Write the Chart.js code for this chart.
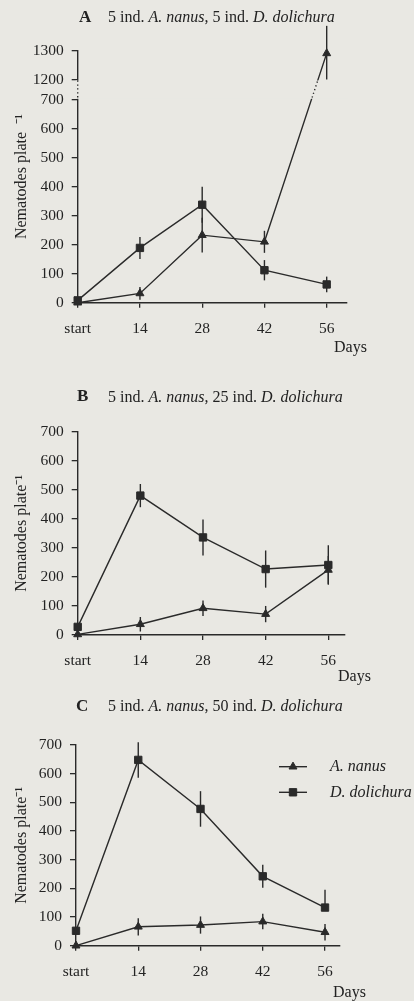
<!DOCTYPE html>
<html><head><meta charset="utf-8">
<script src="https://cdn.jsdelivr.net/npm/chart.js@4.4.1/dist/chart.umd.min.js"></script>
<style>
html,body{margin:0;padding:0;background:#e9e8e3;}
#wrap{position:relative;width:414px;height:1001px;overflow:hidden;font-family:'Liberation Serif','Times New Roman',serif;color:#222;}
canvas{position:absolute;left:0;}
.t{position:absolute;font-size:16px;line-height:20px;white-space:nowrap;}
.t b{font-size:17px;}
</style></head><body><div id="wrap">
<canvas id="cA" width="414" height="355" style="top:0px"></canvas>
<canvas id="cB" width="414" height="320" style="top:360px"></canvas>
<canvas id="cC" width="414" height="311" style="top:690px"></canvas>
<div class="t" style="left:79px;top:7px"><b>A</b></div>
<div class="t" style="left:108px;top:7px">5 ind. <i>A. nanus</i>, 5 ind. <i>D. dolichura</i></div>
<div class="t" style="left:334px;top:337px">Days</div>
<div class="t" style="left:77px;top:386px"><b>B</b></div>
<div class="t" style="left:108px;top:387px">5 ind. <i>A. nanus</i>, 25 ind. <i>D. dolichura</i></div>
<div class="t" style="left:338px;top:666px">Days</div>
<div class="t" style="left:76px;top:696px"><b>C</b></div>
<div class="t" style="left:108px;top:696px">5 ind. <i>A. nanus</i>, 50 ind. <i>D. dolichura</i></div>
<div class="t" style="left:333px;top:982px">Days</div>
</div>
<script>
// ---------- data ----------
const dayLabels = ['start', '14', '28', '42', '56'];
const dayValues = [0, 14, 28, 42, 56];
const seriesNames = ['A. nanus', 'D. dolichura'];
const yTicksA = [0, 100, 200, 300, 400, 500, 600, 700, 1200, 1300];
const yTicksBC = [0, 100, 200, 300, 400, 500, 600, 700];
const axisBreakA = [700, 1200];

const nanusA = [0, 32, 233, 210, 1290];
const nanusA_errUp = [0, 22, 60, 38, 95];
const nanusA_errDown = [0, 22, 60, 38, 90];
const dolichuraA = [8, 189, 338, 112, 63];
const dolichuraA_errUp = [0, 38, 62, 35, 27];
const dolichuraA_errDown = [0, 38, 62, 35, 27];

const nanusB = [2, 37, 92, 72, 224];
const nanusB_errUp = [0, 25, 27, 28, 48];
const nanusB_errDown = [0, 25, 27, 28, 48];
const dolichuraB = [28, 480, 336, 227, 241];
const dolichuraB_errUp = [0, 40, 62, 64, 68];
const dolichuraB_errDown = [0, 40, 62, 64, 68];

const nanusC = [0, 66, 72, 84, 47];
const nanusC_errUp = [0, 30, 30, 27, 29];
const nanusC_errDown = [0, 30, 30, 27, 29];
const dolichuraC = [52, 648, 477, 242, 133];
const dolichuraC_errUp = [0, 62, 62, 40, 62];
const dolichuraC_errDown = [0, 62, 62, 40, 0];

// ---------- style ----------
const INK = '#2a2a2a';
const TEXT = '#232323';
const BG = '#e9e8e3';
const FAMILY = "'Liberation Serif', 'Times New Roman', serif";
const GAP = 70; // compressed units used for the axis break

// ---------- broken linear scale ----------
function compress(v) {
  const [a, b] = axisBreakA;
  if (v <= a) return v;
  if (v >= b) return v - b + a + GAP;
  return a + (v - a) / (b - a) * GAP;
}
function expand(c) {
  const [a, b] = axisBreakA;
  if (c <= a) return c;
  if (c >= a + GAP) return c - a - GAP + b;
  return a + (c - a) / GAP * (b - a);
}
class BrokenScale extends Chart.LinearScale {
  determineDataLimits() { this.min = 0; this.max = compress(this.options.max); }
  buildTicks() { return yTicksA.map(v => ({ value: v })); }
  getPixelForValue(v) { return v === null || v === undefined ? NaN : super.getPixelForValue(compress(v)); }
  getValueForPixel(p) { return expand(super.getValueForPixel(p)); }
}
BrokenScale.id = 'brokenLinear';
BrokenScale.defaults = Chart.LinearScale.defaults;
Chart.register(BrokenScale);

// ---------- plugins ----------
const axisBreak = {
  id: 'axisBreak',
  afterDatasetsDraw(chart, args, o) {
    if (!o || !o.range) return;
    const ys = chart.scales.y, ctx = chart.ctx;
    const { left, right } = chart.chartArea;
    const yTop = ys.getPixelForValue(o.range[1]), yBot = ys.getPixelForValue(o.range[0]);
    ctx.save();
    ctx.fillStyle = BG;
    ctx.fillRect(left - 2, yTop + 1, right - left + 4, yBot - yTop - 2);
    ctx.strokeStyle = INK; ctx.lineWidth = 1.4; ctx.setLineDash([1.3, 2.6]);
    ctx.beginPath(); ctx.moveTo(left, yTop + 1); ctx.lineTo(left, yBot - 1); ctx.stroke();
    ctx.beginPath(); ctx.rect(left + 2, yTop + 1, right - left, yBot - yTop - 2); ctx.clip();
    chart.data.datasets.forEach((d, i) => {
      const pts = chart.getDatasetMeta(i).data;
      ctx.beginPath();
      pts.forEach((p, k) => k ? ctx.lineTo(p.x, p.y) : ctx.moveTo(p.x, p.y));
      ctx.stroke();
    });
    ctx.restore();
  }
};
const errorBars = {
  id: 'errorBars',
  afterDatasetsDraw(chart) {
    const ctx = chart.ctx, ys = chart.scales.y;
    ctx.save();
    ctx.strokeStyle = INK; ctx.lineWidth = 1.4; ctx.setLineDash([]);
    chart.data.datasets.forEach((d, i) => {
      const pts = chart.getDatasetMeta(i).data;
      d.data.forEach((pt, k) => {
        const up = d.errUp[k], dn = d.errDown[k];
        if (!up && !dn) return;
        const x = pts[k].x;
        ctx.beginPath();
        ctx.moveTo(x, ys.getPixelForValue(pt.y + up));
        ctx.lineTo(x, ys.getPixelForValue(pt.y - dn));
        ctx.stroke();
      });
    });
    ctx.restore();
  }
};
const sideLegend = {
  id: 'sideLegend',
  afterDraw(chart, args, o) {
    if (!o || !o.show) return;
    const ctx = chart.ctx;
    ctx.save();
    chart.data.datasets.forEach((d, i) => {
      const y = o.y0 + i * o.dy;
      ctx.strokeStyle = INK; ctx.lineWidth = d.borderWidth; ctx.setLineDash([]);
      ctx.beginPath(); ctx.moveTo(o.x0, y); ctx.lineTo(o.x1, y); ctx.stroke();
      ctx.fillStyle = INK; ctx.lineWidth = 1;
      Chart.helpers.drawPoint(ctx, { pointStyle: d.pointStyle, radius: d.pointRadius, rotation: 0, borderWidth: 1 }, (o.x0 + o.x1) / 2, y);
      ctx.fillStyle = TEXT;
      ctx.font = 'italic 16px ' + FAMILY;
      ctx.textBaseline = 'middle'; ctx.textAlign = 'left';
      ctx.fillText(d.label, o.tx, y);
    });
    ctx.restore();
  }
};

function series(label, vals, up, dn, style, radius) {
  return {
    label, data: vals.map((v, i) => ({ x: dayValues[i], y: v })), errUp: up, errDown: dn,
    borderColor: INK, backgroundColor: INK, borderWidth: 1.4, tension: 0, fill: false, clip: false,
    pointStyle: style, pointRadius: radius, pointBorderWidth: 1,
    pointBackgroundColor: INK, pointBorderColor: INK
  };
}

function makeChart(id, c) {
  const tickFont = { family: FAMILY, size: 15.5 };
  const yScale = {
    type: c.broken ? 'brokenLinear' : 'linear', min: 0, max: c.yMax,
    ticks: { callback: v => String(v), font: tickFont, color: TEXT, padding: 8, autoSkip: false },
    grid: { display: true, drawOnChartArea: false, drawTicks: true, tickLength: 6, color: INK, lineWidth: 1.3 },
    border: { display: true, color: INK, width: 1.4 },
    title: { display: true, text: c.yTitle, font: { family: FAMILY, size: 16 }, color: TEXT, padding: { top: 12, bottom: 0 } },
    afterFit: s => { s.width = c.left; }
  };
  if (!c.broken) yScale.afterBuildTicks = s => { s.ticks = yTicksBC.map(v => ({ value: v })); };
  return new Chart(document.getElementById(id), {
    type: 'line',
    data: {
      datasets: [
        series(seriesNames[0], c.n, c.nUp, c.nDn, 'triangle', 4.6),
        series(seriesNames[1], c.d, c.dUp, c.dDn, 'rect', 5.2)
      ]
    },
    options: {
      responsive: false, animation: false, devicePixelRatio: 1,
      layout: { padding: { top: c.top, right: c.right, left: 0, bottom: 0 } },
      plugins: {
        legend: { display: false }, tooltip: { enabled: false },
        axisBreak: c.broken ? { range: axisBreakA } : {},
        sideLegend: c.legend || {}
      },
      scales: {
        x: {
          type: 'linear', min: 0, max: c.xMax,
          afterBuildTicks: s => { s.ticks = dayValues.map(v => ({ value: v })); },
          ticks: { callback: v => dayLabels[dayValues.indexOf(v)], font: tickFont, color: TEXT, padding: 12, maxRotation: 0, autoSkip: false },
          grid: { display: true, drawOnChartArea: false, drawTicks: true, tickLength: 5, color: INK, lineWidth: 1.3 },
          border: { display: true, color: INK, width: 1.4 },
          afterFit: s => { s.height = c.xH; }
        },
        y: yScale
      }
    },
    plugins: [axisBreak, errorBars, sideLegend]
  });
}

makeChart('cA', {
  broken: true, yMax: 1300, xMax: 60.5, left: 77.7, right: 67.3, top: 50.5, xH: 52.3,
  yTitle: 'Nematodes plate  \u207B\u00B9',
  n: nanusA, nUp: nanusA_errUp, nDn: nanusA_errDown,
  d: dolichuraA, dUp: dolichuraA_errUp, dDn: dolichuraA_errDown
});
makeChart('cB', {
  broken: false, yMax: 700, xMax: 59.73, left: 77.7, right: 69, top: 71.7, xH: 45,
  yTitle: 'Nematodes plate\u207B\u00B9',
  n: nanusB, nUp: nanusB_errUp, nDn: nanusB_errDown,
  d: dolichuraB, dUp: dolichuraB_errUp, dDn: dolichuraB_errDown
});
makeChart('cC', {
  broken: false, yMax: 700, xMax: 59.37, left: 76, right: 74, top: 55, xH: 55.3,
  yTitle: 'Nematodes plate\u207B\u00B9',
  n: nanusC, nUp: nanusC_errUp, nDn: nanusC_errDown,
  d: dolichuraC, dUp: dolichuraC_errUp, dDn: dolichuraC_errDown,
  legend: { show: true, x0: 279, x1: 307, tx: 330, y0: 76.7, dy: 25.6 }
});
</script></body></html>
